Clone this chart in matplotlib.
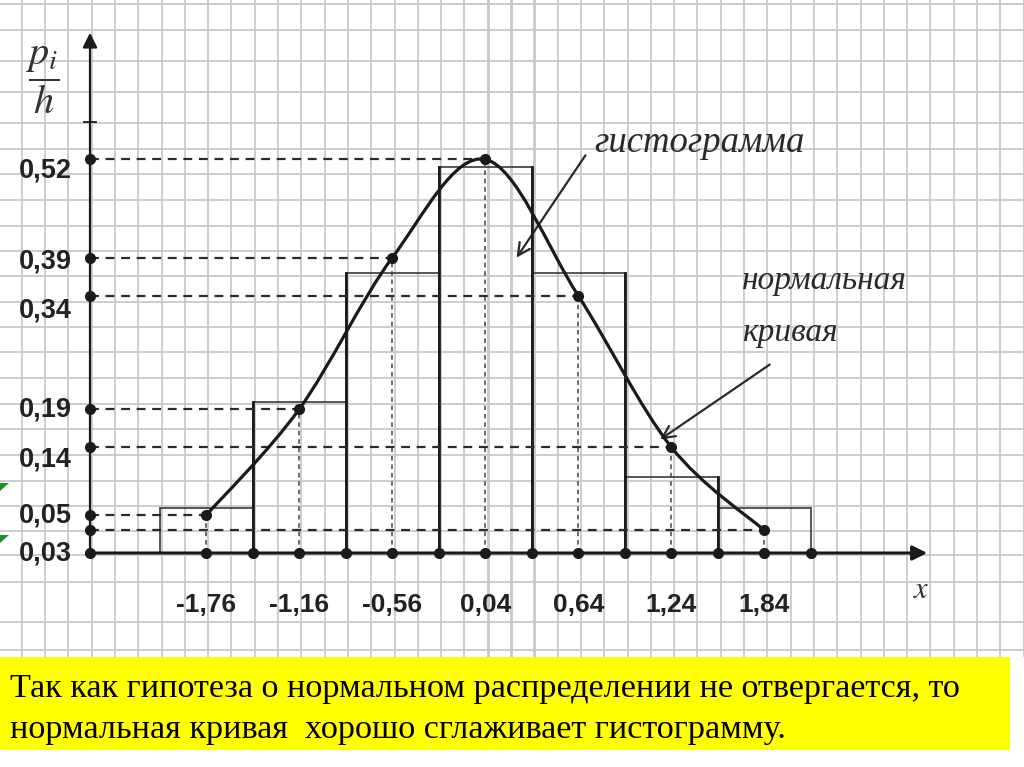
import numpy as np
import matplotlib.pyplot as plt
from matplotlib.path import Path
from matplotlib.patches import PathPatch, Rectangle, Polygon

# ---- data ----
mids = [-1.76, -1.16, -0.56, 0.04, 0.64, 1.24, 1.84]
mid_labels = ["-1,76", "-1,16", "-0,56", "0,04", "0,64", "1,24", "1,84"]
curve_y = [0.05, 0.19, 0.39, 0.52, 0.34, 0.14, 0.03]
curve_labels = ["0,05", "0,19", "0,39", "0,52", "0,34", "0,14", "0,03"]
bin_edges = [-2.06, -1.46, -0.86, -0.26, 0.34, 0.94, 1.54, 2.14]
bar_heights = [0.06, 0.20, 0.37, 0.51, 0.37, 0.10, 0.06]

# ---- layout (pixel mapping of the slide) ----
W, H = 1024, 767
X0_PX, X_SCALE = 479, 155      # pixel of x=0, pixels per unit
Y0_PX, Y_SCALE = 553, 757      # pixel of y=0 (from top), pixels per unit
AXIS_X = (90 - X0_PX) / X_SCALE
X_END = (930 - X0_PX) / X_SCALE
Y_END = (30 - Y0_PX) / -Y_SCALE
Y_TICK = (122 - Y0_PX) / -Y_SCALE
# vertical shift of y-label text below its dashed line (pixels)
label_shift = {0.05: 0, 0.19: 0, 0.39: 4, 0.52: 11, 0.34: 15, 0.14: 12, 0.03: 23}

INK = "#1a1a1a"
SANS = "Liberation Sans"
SERIF = "Liberation Serif"
plt.rcParams["mathtext.fontset"] = "stix"

fig = plt.figure(figsize=(W / 100, H / 100), dpi=100)
fig.patch.set_facecolor("white")

# background sheet in pixel coordinates
bg = fig.add_axes([0, 0, 1, 1])
bg.set_xlim(0, W)
bg.set_ylim(H, 0)
bg.axis("off")

grid_x = 21.7 + 23.3 * np.arange(44)
grid_y = [4, 30, 61, 92, 123, 149, 174, 200, 226, 251, 276, 302, 327, 352,
          378, 404, 429, 455, 481, 506, 531, 555, 582, 622, 650]
for gx in grid_x:
    lw = 2.0 if 480 < gx < 540 else 1.3
    bg.plot([gx, gx], [0, 656], color="#c9c9c9", lw=lw, zorder=0)
for gy in grid_y:
    bg.plot([0, W], [gy, gy], color="#c9c9c9", lw=1.3, zorder=0)

# yellow conclusion box
bg.add_patch(Rectangle((0, 657), 1010, 93, facecolor="#ffff00", edgecolor="none", zorder=1))
bg.text(10, 689, "Так как гипотеза о нормальном распределении не отвергается, то",
        fontsize=24.6, family=SERIF, va="center", ha="left", color="black", zorder=2)
bg.text(10, 730, "нормальная кривая  хорошо сглаживает гистограмму.",
        fontsize=24.6, family=SERIF, va="center", ha="left", color="black", zorder=2)

# little green marks at the left edge
for gy in (483, 535):
    bg.add_patch(Polygon([[0, gy], [9, gy], [0, gy + 8]], closed=True,
                         facecolor="#1f8f1f", edgecolor="none", zorder=2))

# axis captions
bg.text(42, 80, r"$\dfrac{p_i}{h}$", fontsize=29, ha="center", va="center", color="#333333")
bg.text(921, 590, r"$x$", fontsize=22, ha="center", va="center", color="#333333")

# annotations
bg.text(594, 143, "гистограмма", fontsize=26.5, family=SERIF, style="italic",
        ha="left", va="center", color="#2a2a2a")
bg.annotate("", xy=(515, 260), xytext=(587, 153),
            arrowprops=dict(arrowstyle="->", lw=1.6, color="#2a2a2a", mutation_scale=22))
bg.text(742, 281, "нормальная", fontsize=24, family=SERIF, style="italic",
        ha="left", va="center", color="#2a2a2a")
bg.text(742, 333, "кривая", fontsize=24, family=SERIF, style="italic",
        ha="left", va="center", color="#2a2a2a")
bg.annotate("", xy=(658, 441), xytext=(772, 363),
            arrowprops=dict(arrowstyle="->", lw=1.6, color="#2a2a2a", mutation_scale=22))

# main drawing in data coordinates
ax = fig.add_axes([0, 0, 1, 1])
ax.patch.set_alpha(0)
ax.set_xlim(-X0_PX / X_SCALE, (W - X0_PX) / X_SCALE)
ax.set_ylim((Y0_PX - H) / Y_SCALE, Y0_PX / Y_SCALE)
ax.axis("off")

# histogram bars
for left, right, h in zip(bin_edges[:-1], bin_edges[1:], bar_heights):
    ax.add_patch(Rectangle((left, 0), right - left, h, fill=False,
                           edgecolor="#3a3a3a", lw=1.2, zorder=3))
for i in range(1, len(bin_edges) - 1):
    top = max(bar_heights[i - 1], bar_heights[i])
    ax.plot([bin_edges[i], bin_edges[i]], [0, top], color=INK, lw=2.0, zorder=3)

# dashed guide lines
for xm, yv in zip(mids, curve_y):
    ax.plot([AXIS_X, xm], [yv, yv], color="#2a2a2a", lw=1.6,
            dashes=(4, 3), zorder=4)
    ax.plot([xm, xm], [0, yv], color="#444444", lw=1.1,
            dashes=(3, 2.5), zorder=4)

# axes with arrows
ax.annotate("", xy=(X_END, 0), xytext=(AXIS_X, 0),
            arrowprops=dict(arrowstyle="-|>", lw=2.2, color=INK, mutation_scale=22))
ax.annotate("", xy=(AXIS_X, Y_END), xytext=(AXIS_X, 0),
            arrowprops=dict(arrowstyle="-|>", lw=1.6, color=INK, mutation_scale=22))
ax.plot([AXIS_X - 0.04, AXIS_X + 0.04], [Y_TICK, Y_TICK], color=INK, lw=1.3)


# smooth normal curve through the points (Catmull-Rom as Bezier path)
def smooth_path(xs, ys):
    pts = np.column_stack([xs, ys])
    n = len(pts)
    verts = [pts[0]]
    codes = [Path.MOVETO]
    for i in range(n - 1):
        p0 = pts[i - 1] if i > 0 else pts[i]
        p1, p2 = pts[i], pts[i + 1]
        p3 = pts[i + 2] if i + 2 < n else pts[i + 1]
        verts += [p1 + (p2 - p0) / 6, p2 - (p3 - p1) / 6, p2]
        codes += [Path.CURVE4] * 3
    return Path(verts, codes)


ax.add_patch(PathPatch(smooth_path(mids, curve_y), fill=False,
                       edgecolor=INK, lw=2.3, zorder=5))

# dots
ax.plot(mids, curve_y, "o", color=INK, ms=7, zorder=6)
ax.plot(mids, [0] * len(mids), "o", color=INK, ms=7, zorder=6)
ax.plot(bin_edges[1:], [0] * (len(bin_edges) - 1), "o", color=INK, ms=7, zorder=6)
ax.plot([AXIS_X] * (len(curve_y) + 1), list(curve_y) + [0], "o", color=INK, ms=7, zorder=6)

# y labels
for yv, lab in zip(curve_y, curve_labels):
    ax.annotate(lab, xy=(AXIS_X, yv), xytext=(-18, -label_shift[yv]),
                textcoords="offset pixels", ha="right", va="center",
                fontsize=19.5, family=SANS, weight="bold", color="#222222")

# x labels
for xm, lab in zip(mids, mid_labels):
    ax.annotate(lab, xy=(xm, 0), xytext=(0, -52), textcoords="offset pixels",
                ha="center", va="center", fontsize=19, family=SANS,
                weight="bold", color="#222222")

fig.savefig("out.png", dpi=100)
